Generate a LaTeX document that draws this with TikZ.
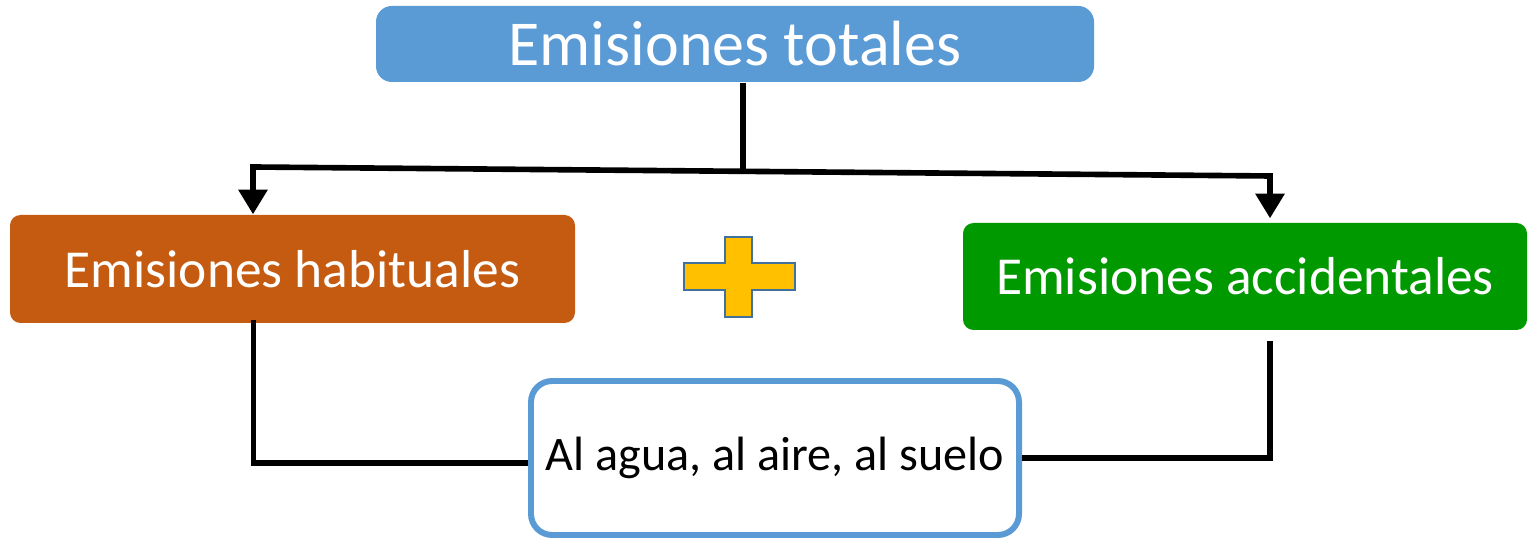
\documentclass[tikz,border=0pt]{standalone}
\usepackage{fontspec}
\setmainfont{Carlito}
\usepackage{xcolor}
\usetikzlibrary{arrows.meta,positioning,calc}
\definecolor{emiblue}{RGB}{91,155,213}
\definecolor{emiorange}{RGB}{197,90,17}
\definecolor{emigreen}{RGB}{0,153,0}
\definecolor{emiyellow}{RGB}{255,192,0}
\definecolor{emiedge}{RGB}{65,113,156}

\tikzset{
  emibox/.style={rectangle, rounded corners=4.5pt, inner sep=0pt, text=white},
  link/.style={line width=1.6pt, black},
  linkarrow/.style={link, -{Triangle[width=8pt,length=7pt]}}
}

\begin{document}
\begin{tikzpicture}
				\useasboundingbox (0,0) rectangle (15.28,-5.41);
				
				% Total emissions box
				\node[emibox, fill=emiblue, minimum width=7.18cm, minimum height=0.76cm,
				      font=\fontsize{18.2}{21}\selectfont] (total) at (7.35,-0.44) {Emisiones totales};
				
				% The two kinds of emissions
				\node[emibox, rounded corners=3pt, fill=emiorange, minimum width=5.65cm, minimum height=1.08cm,
				      font=\fontsize{15.2}{18}\selectfont] (habit) at (2.925,-2.69) {Emisiones habituales};
				\node[emibox, rounded corners=3pt, fill=emigreen, minimum width=5.64cm, minimum height=1.07cm,
				      font=\fontsize{15.2}{18}\selectfont] (accid) at (12.45,-2.765) {Emisiones accidentales};
				
				% Media box
				\node[emibox, rounded corners=6pt, draw=emiblue, line width=1.7pt, fill=white, text=black,
				      minimum width=4.88cm, minimum height=1.54cm,
				      font=\fontsize{13.7}{16}\selectfont] (medio) at (7.75,-4.58) {Al agua, al aire, al suelo};
				
				% Plus sign
				\draw[emiedge, line width=0.6pt, fill=emiyellow]
				  (6.84,-2.63) -- (7.25,-2.63) -- (7.25,-2.37) -- (7.52,-2.37) -- (7.52,-2.63)
				  -- (7.95,-2.63) -- (7.95,-2.90) -- (7.52,-2.90) -- (7.52,-3.17) -- (7.25,-3.17)
				  -- (7.25,-2.90) -- (6.84,-2.90) -- cycle;
				
				% Branching
				\coordinate (jl) at (2.53,-1.67);
				\coordinate (jr) at (12.70,-1.76);
				\coordinate (jm) at ($(jl)!0.482!(jr)$);
				\draw[link] (total.south -| jm) -- (jm);
				\draw[link, line cap=rect] (jl) -- (jr);
				\draw[linkarrow] (jl) -- (jl |- habit.north);
				\draw[linkarrow] (jr) -- ($(jr |- accid.north)+(0,0.04)$);
				
				% Connections to the media box
				\draw[link] ($(habit.south)+(-0.39,0.04)$) |- (medio.west |- 0,-4.63);
				\draw[link] ($(accid.south)+(0.25,-0.10)$) |- (medio.east |- 0,-4.58);
			\end{tikzpicture}
\end{document}
